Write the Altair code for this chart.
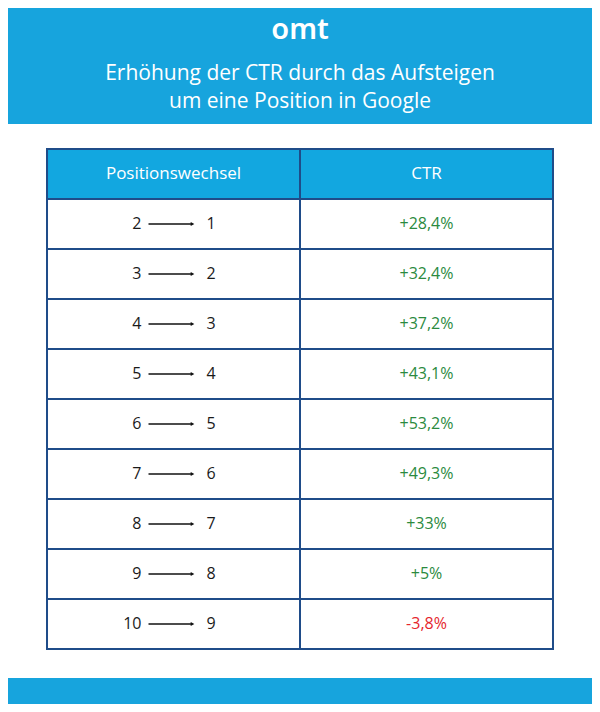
import altair as alt
import pandas as pd
import numpy as np

# ---- data ----
from_pos = [2, 3, 4, 5, 6, 7, 8, 9, 10]
to_pos = [1, 2, 3, 4, 5, 6, 7, 8, 9]
ctr_change = [28.4, 32.4, 37.2, 43.1, 53.2, 49.3, 33, 5, -3.8]
headers = ["Positionswechsel", "CTR"]
title_lines = ["Erhöhung der CTR durch das Aufsteigen", "um eine Position in Google"]
logo = "omt"

BLUE = "#17a4dd"
HEAD = "#12a7e0"
NAVY = "#1f4c89"
GREEN = "#2b8a3e"
RED = "#e5262d"
FONT = "Open Sans"

W, H = 584, 696

n = len(from_pos)
rows = pd.DataFrame({
    "row": np.arange(1, n + 1),
    "from": [str(v) for v in from_pos],
    "to": [str(v) for v in to_pos],
    "ctr": ctr_change,
})
rows["label"] = [(f"{v:+g}").replace(".", ",") + "%" for v in ctr_change]
rows["sign"] = ["pos" if v >= 0 else "neg" for v in ctr_change]
rows["c0"] = 0
rows["c1"] = 1

ncol = len(headers)
xs = alt.Scale(domain=[-0.6542, 1.6542], zero=False, nice=False)
ys = alt.Scale(domain=[-3.32, 10.6], zero=False, nice=False, reverse=True)

def X(f):
    return alt.X(f, type="quantitative", scale=xs, axis=None)

def Y(f):
    return alt.Y(f, type="quantitative", scale=ys, axis=None)

dummy = pd.DataFrame({"a": [0]})

top_band = alt.Chart(dummy).mark_rect(color=BLUE).encode(
    x=alt.value(0), x2=alt.value(W), y=alt.value(0), y2=alt.value(116))
bottom_band = alt.Chart(dummy).mark_rect(color=BLUE).encode(
    x=alt.value(0), x2=alt.value(W), y=alt.value(670), y2=alt.value(H))
logo_t = alt.Chart(dummy).mark_text(
    font="Noto Sans", fontSize=29, fontWeight=600, color="white",
    align="center", baseline="alphabetic").encode(
    x=alt.value(292), y=alt.value(31), text=alt.value(logo))
title_df = pd.DataFrame({"line": title_lines, "i": range(len(title_lines))})
title_t = alt.Chart(title_df).mark_text(
    font=FONT, fontSize=21, color="white", align="center", baseline="middle").encode(
    x=alt.value(292),
    y=alt.Y("i:Q", scale=alt.Scale(domain=[0, 1], range=[66, 94]), axis=None),
    text="line:N")

# table structure derived from row / column counts
struct = pd.DataFrame({"x0": [-0.5], "x1": [ncol - 0.5], "y0": [-0.5], "y1": [0.5], "yb": [n + 0.5]})
header_rect = alt.Chart(struct).mark_rect(color=HEAD).encode(
    x=X("x0"), x2="x1", y=Y("y0"), y2="y1")
outer = alt.Chart(struct).mark_rect(fill=None, stroke=NAVY, strokeWidth=2).encode(
    x=X("x0"), x2="x1", y=Y("y0"), y2="yb")

hlines_df = pd.DataFrame({"y": [k + 0.5 for k in range(n)], "x0": -0.5, "x1": ncol - 0.5})
hlines = alt.Chart(hlines_df).mark_rule(color=NAVY, strokeWidth=2).encode(
    x=X("x0"), x2="x1", y=Y("y"))
vlines_df = pd.DataFrame({"x": [c + 0.5 for c in range(ncol - 1)], "y0": -0.5, "y1": n + 0.5})
vlines = alt.Chart(vlines_df).mark_rule(color=NAVY, strokeWidth=2).encode(
    x=X("x"), y=Y("y0"), y2="y1")

head_df = pd.DataFrame({"col": range(ncol), "row": 0, "text": headers})
head_t = alt.Chart(head_df).mark_text(
    font=FONT, fontSize=17, color="white", align="center", baseline="middle").encode(
    x=X("col"), y=Y("row"), text="text:N")

base = alt.Chart(rows)
from_t = base.mark_text(font=FONT, fontSize=16, fontWeight=500, color="#1a1a1a", align="right",
                        baseline="middle", dx=-32).encode(x=X("c0"), y=Y("row"), text="from:N")
to_t = base.mark_text(font=FONT, fontSize=16, fontWeight=500, color="#1a1a1a", align="left",
                      baseline="middle", dx=33).encode(x=X("c0"), y=Y("row"), text="to:N")
arrow = base.mark_rule(color="#111111", strokeWidth=1.3, xOffset=-25, x2Offset=18).encode(
    x=X("c0"), x2="c0", y=Y("row"))
head = base.mark_point(shape="triangle-right", filled=True, color="#111111", size=18,
                       opacity=1, xOffset=19).encode(x=X("c0"), y=Y("row"))
ctr_t = base.mark_text(font=FONT, fontSize=16, fontWeight=500, align="center", baseline="middle").encode(
    x=X("c1"), y=Y("row"), text="label:N",
    color=alt.Color("sign:N", scale=alt.Scale(domain=["pos", "neg"], range=[GREEN, RED]), legend=None))

chart = alt.layer(
    top_band, bottom_band, logo_t, title_t,
    header_rect, hlines, vlines, outer, head_t,
    arrow, head, from_t, to_t, ctr_t
).resolve_scale(y="independent").properties(
    width=W, height=H, padding=0, autosize="none", background="white"
).configure_view(stroke=None)

chart.save("out.html", embed_options={"renderer": "svg", "actions": False})
